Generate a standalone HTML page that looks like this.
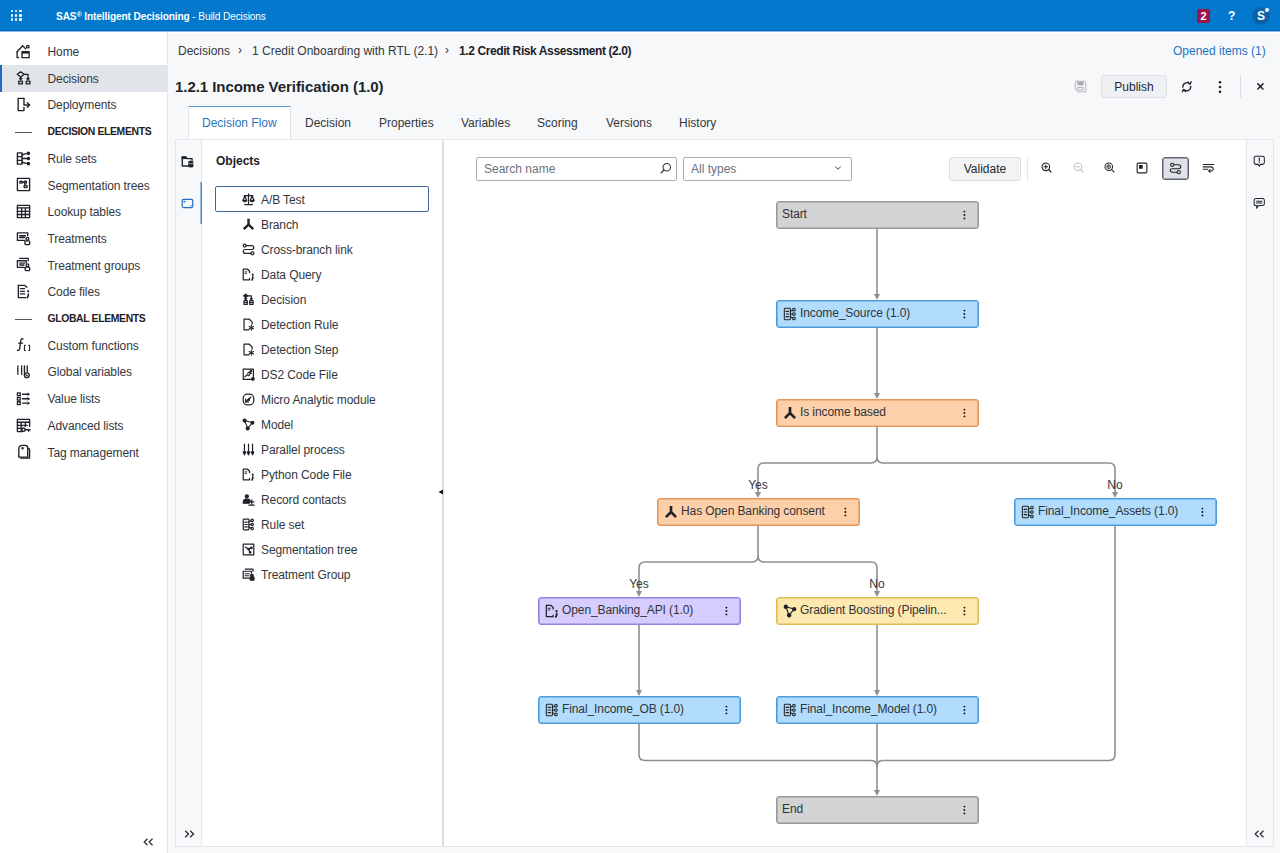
<!DOCTYPE html><html><head><meta charset="utf-8"><style>
*{box-sizing:border-box;margin:0;padding:0}
html,body{width:1280px;height:853px;overflow:hidden;background:#fff;font-family:"Liberation Sans",sans-serif;color:#23272e}
.a{position:absolute}
svg{position:absolute;overflow:visible}
#hdr{position:absolute;left:0;top:0;width:1280px;height:31px;background:#0378cd;border-bottom:1px solid #0068c4}
#side{position:absolute;left:0;top:31px;width:168px;height:822px;background:#fff;border-right:1px solid #e4e6ea}
#main{position:absolute;left:168px;top:33px;width:1112px;height:820px;background:#f7f8fa}
.si{position:absolute;left:0;width:167px;height:27px;font-size:12px;line-height:27px;padding-left:47.5px;padding-top:0.7px;color:#33373d;white-space:nowrap;letter-spacing:-0.1px}
.si.sel{background:#e1e4e8}
.si.sel:before{content:"";position:absolute;left:0;top:0;width:2px;height:27px;background:#1f6ac2}
.sh{position:absolute;left:47.5px;font-size:10.4px;font-weight:bold;color:#1d2126;white-space:nowrap;letter-spacing:-0.35px}
.dash{position:absolute;left:15px;width:17px;height:1px;background:#555}
.t{position:absolute;white-space:nowrap;font-size:12px;line-height:14px;color:#33373d}
.node{position:absolute;width:203px;height:28px;border:1px solid;border-radius:3px;font-size:12px;line-height:24.5px;white-space:nowrap;color:#30343a;letter-spacing:-0.1px}
.kb{position:absolute;left:186px;top:9px;width:2px;height:9px}
.kb i{position:absolute;left:0.2px;width:1.7px;height:1.7px;border-radius:1px;background:#111}
.oi{position:absolute;left:261px;font-size:12px;line-height:14px;white-space:nowrap;color:#33373d;letter-spacing:-0.1px}
</style></head><body>
<div id="hdr"></div><div class="a" style="left:0;top:31px;width:1280px;height:1px;background:#8cbde8;z-index:5"></div>
<div class="a" style="left:10.8px;top:10.0px;width:2.4px;height:2.4px;border-radius:1px;background:#fff"></div>
<div class="a" style="left:15.0px;top:10.0px;width:2.4px;height:2.4px;border-radius:1px;background:#fff"></div>
<div class="a" style="left:19.2px;top:10.0px;width:2.4px;height:2.4px;border-radius:1px;background:#fff"></div>
<div class="a" style="left:10.8px;top:14.2px;width:2.4px;height:2.4px;border-radius:1px;background:#fff"></div>
<div class="a" style="left:15.0px;top:14.2px;width:2.4px;height:2.4px;border-radius:1px;background:#fff"></div>
<div class="a" style="left:19.2px;top:14.2px;width:2.4px;height:2.4px;border-radius:1px;background:#fff"></div>
<div class="a" style="left:10.8px;top:18.4px;width:2.4px;height:2.4px;border-radius:1px;background:#fff"></div>
<div class="a" style="left:15.0px;top:18.4px;width:2.4px;height:2.4px;border-radius:1px;background:#fff"></div>
<div class="a" style="left:19.2px;top:18.4px;width:2.4px;height:2.4px;border-radius:1px;background:#fff"></div>
<div class="t" style="left:56px;top:9.5px;font-size:10.1px;line-height:14px;color:#fff;letter-spacing:-0.1px"><b>SAS<span style="font-size:7px;vertical-align:3px;line-height:0">®</span> Intelligent Decisioning</b> - Build Decisions</div>
<div class="a" style="left:1197px;top:9px;width:13px;height:14px;background:#9a1649;border-radius:1.5px;color:#fff;font-size:11px;font-weight:bold;line-height:14px;text-align:center">2</div>
<div class="t" style="left:1228px;top:8px;font-size:12px;color:#fff;font-weight:bold;line-height:16px">?</div>
<div class="a" style="left:1252px;top:7px;width:18px;height:18px;border-radius:9px;background:#0a62ab;color:#fff;font-size:12px;font-weight:bold;line-height:18px;text-align:center">S</div>
<div class="a" style="left:1265px;top:8px;width:4px;height:4px;border-radius:2px;background:#fff"></div>
<div id="side"></div>
<div class="si" style="top:38.4px">Home</div>
<svg style="left:16.3px;top:43.7px" width="15" height="15" viewBox="0 0 16 16" fill="none" stroke="#1f2329" stroke-width="1.45" stroke-linecap="round" stroke-linejoin="round"><path d="M1.2,8.2 L7.2,1.8 L10.3,5.2"/><circle cx="12.6" cy="2.8" r="1.4"/><path d="M1.2,8.2 V14.6 H2.6"/><rect x="6.4" y="8.2" width="7.6" height="6.4"/><rect x="6.4" y="8.2" width="7.6" height="2" fill="#1f2329" stroke="none"/></svg>
<div class="si sel" style="top:65.1px">Decisions</div>
<svg style="left:16.3px;top:70.4px" width="15" height="15" viewBox="0 0 16 16" fill="none" stroke="#1f2329" stroke-width="1.45" stroke-linecap="round" stroke-linejoin="round"><path d="M1.3,4.6 L5,1.8 L8.7,4.6 L5,7.4 Z"/><path d="M5,7.4 V10.2"/><path d="M3.9,9.1 L5,10.2 L6.1,9.1"/><path d="M8.7,4.6 H12.8 V10.2"/><path d="M11.7,9.1 L12.8,10.2 L13.9,9.1"/><rect x="3" y="11.8" width="3.8" height="3"/><rect x="11" y="11.8" width="3.8" height="3"/></svg>
<div class="si" style="top:91.8px">Deployments</div>
<svg style="left:16.3px;top:97.1px" width="15" height="15" viewBox="0 0 16 16" fill="none" stroke="#1f2329" stroke-width="1.45" stroke-linecap="round" stroke-linejoin="round"><path d="M8.5,1.5 H2.3 V14.5 H8.5 V11"/><path d="M8.5,1.5 V8.5 H14.5"/><path d="M12,6 L14.5,8.5 L12,11"/></svg>
<div class="dash" style="top:131.7px"></div>
<div class="sh" style="top:125.2px;line-height:13px">DECISION ELEMENTS</div>
<div class="si" style="top:145.2px">Rule sets</div>
<svg style="left:16.3px;top:150.5px" width="15" height="15" viewBox="0 0 16 16" fill="none" stroke="#1f2329" stroke-width="1.45" stroke-linecap="round" stroke-linejoin="round"><rect x="1.5" y="2" width="5" height="12"/><path d="M1.5,6 H6.5 M1.5,10 H6.5"/><path d="M6.5,4 L11,2.8 M6.5,8 H11 M6.5,12 L11,13.2"/><circle cx="13.2" cy="2.5" r="1.2" fill="#1f2329"/><circle cx="13.2" cy="8" r="1.2" fill="#1f2329"/><circle cx="13.2" cy="13.5" r="1.2" fill="#1f2329"/></svg>
<div class="si" style="top:171.9px">Segmentation trees</div>
<svg style="left:16.3px;top:177.2px" width="15" height="15" viewBox="0 0 16 16" fill="none" stroke="#1f2329" stroke-width="1.45" stroke-linecap="round" stroke-linejoin="round"><rect x="1.5" y="1.5" width="13" height="13"/><rect x="4" y="4.5" width="2.8" height="2" rx="1"/><rect x="8.5" y="4.5" width="2.8" height="2" rx="1"/><rect x="8.5" y="9" width="3.5" height="2.2" rx="1"/><path d="M6.8,5.5 H8.5 M9.5,6.5 V9"/></svg>
<div class="si" style="top:198.6px">Lookup tables</div>
<svg style="left:16.3px;top:203.9px" width="15" height="15" viewBox="0 0 16 16" fill="none" stroke="#1f2329" stroke-width="1.45" stroke-linecap="round" stroke-linejoin="round"><rect x="1.5" y="1.5" width="13" height="13"/><path d="M1.5,4.2 H14.5 M1.5,7.8 H14.5 M1.5,11.2 H14.5 M6,4.2 V14.5 M10,4.2 V14.5"/></svg>
<div class="si" style="top:225.3px">Treatments</div>
<svg style="left:16.3px;top:230.6px" width="15" height="15" viewBox="0 0 16 16" fill="none" stroke="#1f2329" stroke-width="1.45" stroke-linecap="round" stroke-linejoin="round"><path d="M9,10 H1.5 V2 H12.5 V5"/><path d="M4,5 H10 M4,7 H9" stroke-width="1.6"/><circle cx="12.2" cy="8.3" r="1.5"/><rect x="9.6" y="10.5" width="5" height="4" rx="1"/></svg>
<div class="si" style="top:252.0px">Treatment groups</div>
<svg style="left:16.3px;top:257.3px" width="15" height="15" viewBox="0 0 16 16" fill="none" stroke="#1f2329" stroke-width="1.45" stroke-linecap="round" stroke-linejoin="round"><path d="M4,1.5 H13 V4"/><path d="M9,11 H1.5 V4 H11 V6"/><path d="M4,6.5 H9.5 M4,8.5 H8.5" stroke-width="1.4"/><circle cx="12.2" cy="8.8" r="1.4"/><rect x="9.8" y="10.8" width="4.8" height="3.8" rx="1"/></svg>
<div class="si" style="top:278.7px">Code files</div>
<svg style="left:16.3px;top:284.0px" width="15" height="15" viewBox="0 0 16 16" fill="none" stroke="#1f2329" stroke-width="1.45" stroke-linecap="round" stroke-linejoin="round"><path d="M2.5,1.5 H9.5 L11.5,3.5"/><path d="M2.5,1.5 V14.5 H10.5"/><path d="M4.8,5 H9 M4.8,7.8 H9 M4.8,10.6 H9"/><circle cx="13" cy="7.6" r="1.1" fill="#1f2329" stroke="none"/><path d="M13.1,10.6 V12.4 L12.1,14.6" stroke-width="1.7"/></svg>
<div class="dash" style="top:318.6px"></div>
<div class="sh" style="top:312.1px;line-height:13px">GLOBAL ELEMENTS</div>
<div class="si" style="top:332.1px">Custom functions</div>
<svg style="left:16.3px;top:337.4px" width="15" height="15" viewBox="0 0 16 16" fill="none" stroke="#1f2329" stroke-width="1.45" stroke-linecap="round" stroke-linejoin="round"><path d="M7.5,2 C6,1.6 5.2,2.6 5,4.5 L4,12 C3.8,13.8 3,14.6 1.6,14.2"/><path d="M2.8,6.5 H7"/><path d="M10,8.8 H9 V14.5 H10 M13.5,8.8 H14.5 V14.5 H13.5" stroke-width="1.1"/></svg>
<div class="si" style="top:358.8px">Global variables</div>
<svg style="left:16.3px;top:364.1px" width="15" height="15" viewBox="0 0 16 16" fill="none" stroke="#1f2329" stroke-width="1.45" stroke-linecap="round" stroke-linejoin="round"><path d="M2,2 V12 M6,2 V12" stroke-dasharray="1.5,1" /><path d="M9,2 V10 M12,2 V8"/><circle cx="11.5" cy="12" r="2.6"/><path d="M10.5,11.5 L12,12.5" /></svg>
<div class="si" style="top:385.5px">Value lists</div>
<svg style="left:16.3px;top:390.8px" width="15" height="15" viewBox="0 0 16 16" fill="none" stroke="#1f2329" stroke-width="1.45" stroke-linecap="round" stroke-linejoin="round"><rect x="1.5" y="2" width="3" height="3"/><rect x="1.5" y="6.8" width="3" height="3"/><rect x="1.5" y="11.5" width="3" height="3"/><path d="M7,3.5 H14 M7,8.3 H14 M7,13 H14"/><path d="M12.5,2.3 L14,3.5 L12.5,4.7 M12.5,7.1 L14,8.3 L12.5,9.5 M12.5,11.8 L14,13 L12.5,14.2" stroke-width="1"/></svg>
<div class="si" style="top:412.2px">Advanced lists</div>
<svg style="left:16.3px;top:417.5px" width="15" height="15" viewBox="0 0 16 16" fill="none" stroke="#1f2329" stroke-width="1.45" stroke-linecap="round" stroke-linejoin="round"><path d="M7,14.5 H1.5 V1.5 H14.5 V9"/><path d="M1.5,4.5 H14.5 M1.5,7.8 H12 M1.5,11 H5 M5.5,4.5 V14.5 M10,4.5 V9"/><circle cx="8" cy="12.5" r="1.8"/><path d="M9.8,12.5 H15 M13.5,12.5 V14"/></svg>
<div class="si" style="top:438.9px">Tag management</div>
<svg style="left:16.3px;top:444.2px" width="15" height="15" viewBox="0 0 16 16" fill="none" stroke="#1f2329" stroke-width="1.45" stroke-linecap="round" stroke-linejoin="round"><path d="M3,14 V5 C3,2.5 4.5,1.5 7,1.5 H10 C11.8,1.5 12.5,2.5 12.5,4 V14 Z"/><path d="M12.5,4.5 C14,4.5 14.5,5.5 14.5,6.5 V15 H5"/><circle cx="7" cy="4.5" r="0.6" fill="#1f2329"/></svg>
<svg style="left:143px;top:838px" width="11" height="8"><path d="M4.5,0.8 L1.2,4 L4.5,7.2 M9.5,0.8 L6.2,4 L9.5,7.2" fill="none" stroke="#2b2f36" stroke-width="1.3"/></svg>
<div id="main"></div>
<div class="t" style="left:178px;top:44px">Decisions</div>
<div class="t" style="left:238px;top:43px">›</div>
<div class="t" style="left:252px;top:44px">1 Credit Onboarding with RTL (2.1)</div>
<div class="t" style="left:445px;top:43px">›</div>
<div class="t" style="left:459px;top:44px;font-weight:bold;color:#1d2126;letter-spacing:-0.4px">1.2 Credit Risk Assessment (2.0)</div>
<div class="t" style="left:1173px;top:44px;color:#1f75c0">Opened items (1)</div>
<div class="t" style="left:175px;top:77.8px;font-size:15px;line-height:18px;font-weight:bold;color:#22262c;letter-spacing:-0.05px">1.2.1 Income Verification (1.0)</div>
<svg style="left:1074px;top:80px" width="13" height="13" viewBox="0 0 16 16" fill="none" stroke="#a6a9ae" stroke-width="1.1" stroke-linecap="round" stroke-linejoin="round"><path d="M3.5,1.5 H12.5 Q14.5,1.5 14.5,3.5 V14.5 H4.5 L1.5,11.5 V3.5 Q1.5,1.5 3.5,1.5 Z"/><rect x="4.2" y="2.2" width="7.6" height="4.3" fill="#a6a9ae" stroke="none"/><rect x="4.8" y="9" width="6.4" height="3"/></svg>
<div class="a" style="left:1101px;top:75px;width:66px;height:23px;background:#eef0f3;border:1px solid #dcdfe4;border-radius:3px;font-size:12px;line-height:22.5px;text-align:center;color:#23272e">Publish</div>
<svg style="left:1181.2px;top:81.2px" width="11.5" height="11.5" viewBox="0 0 16 16" fill="none" stroke="#1f2329" stroke-width="1.3" stroke-linecap="round" stroke-linejoin="round"><path d="M12.3,4.2 A5.6,5.6 0 0 0 2.6,8.6" stroke-width="1.9"/><path d="M3.7,11.8 A5.6,5.6 0 0 0 13.4,7.4" stroke-width="1.9"/><path d="M9.6,1.2 L12.6,4.4 L14.2,0.9" stroke-width="1.7"/><path d="M6.4,14.8 L3.4,11.6 L1.8,15.1" stroke-width="1.7"/></svg>
<svg style="left:1213px;top:80px" width="14" height="14" viewBox="0 0 16 16" fill="none" stroke="#1f2329" stroke-width="1.3" stroke-linecap="round" stroke-linejoin="round"><circle cx="8" cy="2.5" r="1.5" fill="#1f2329" stroke="none"/><circle cx="8" cy="8" r="1.5" fill="#1f2329" stroke="none"/><circle cx="8" cy="13.5" r="1.5" fill="#1f2329" stroke="none"/></svg>
<div class="a" style="left:1240px;top:75px;width:1px;height:23px;background:#dcdfe4"></div>
<svg style="left:1256px;top:82.2px" width="8.8" height="8.8" viewBox="0 0 16 16" fill="none" stroke="#1f2329" stroke-width="1.3" stroke-linecap="round" stroke-linejoin="round"><path d="M2.5,2.5 L13.5,13.5 M13.5,2.5 L2.5,13.5" stroke-width="2.6" stroke-linecap="butt"/></svg>
<div class="a" style="left:188px;top:106px;width:103px;height:34px;background:#fff;border:1px solid #e0e3e7;border-top:1px solid #5b9bd5;border-bottom:none"></div>
<div class="t" style="left:202px;top:116px;color:#1f75c0">Decision Flow</div>
<div class="t" style="left:305px;top:116px;color:#33373d">Decision</div>
<div class="t" style="left:379px;top:116px;color:#33373d">Properties</div>
<div class="t" style="left:461px;top:116px;color:#33373d">Variables</div>
<div class="t" style="left:537px;top:116px;color:#33373d">Scoring</div>
<div class="t" style="left:606px;top:116px;color:#33373d">Versions</div>
<div class="t" style="left:679px;top:116px;color:#33373d">History</div>
<div class="a" style="left:175px;top:139px;width:1099px;height:708px;background:#fff;border:1px solid #e3e6ea"></div>
<div class="a" style="left:176px;top:140px;width:26px;height:706px;background:#f7f8fa;border-right:1px solid #e3e6ea"></div>
<div class="a" style="left:201px;top:182px;width:1px;height:42px;background:#3b86cf;box-shadow:-0.5px 0 0 0 #3b86cf"></div>
<svg style="left:181px;top:155px" width="13" height="13" viewBox="0 0 16 16" fill="none" stroke="#1f2329" stroke-width="1.3" stroke-linecap="round" stroke-linejoin="round"><path d="M8.5,13.6 H1.6 V2.4 H6 L7.6,4.4 H13.6 V6.4" stroke-width="1.7"/><path d="M1.6,2.4 H6 L7.6,4.4 H1.6 Z" fill="#1f2329" stroke-width="1.2"/><path d="M8.8,8.6 V13.8 Q8.8,15.3 12,15.3 Q15.2,15.3 15.2,13.8 V8.6 Z" fill="#1f2329" stroke="none"/><ellipse cx="12" cy="8.6" rx="3.2" ry="1.5" fill="#1f2329" stroke="none"/><path d="M8.9,10.2 Q12,11.6 15.1,10.2" stroke="#f7f8fa" stroke-width="0.7"/></svg>
<svg style="left:181px;top:197px" width="13" height="13" viewBox="0 0 16 16" fill="none" stroke="#1f6fc0" stroke-width="1.3" stroke-linecap="round" stroke-linejoin="round"><rect x="1.5" y="3" width="13" height="10" rx="1.5" stroke-width="1.5"/><rect x="3.2" y="4.7" width="2" height="2" fill="#1f6fc0" stroke="none"/><circle cx="12.3" cy="10.8" r="0.9" fill="#1f6fc0" stroke="none"/></svg>
<div class="a" style="left:442px;top:140px;width:2px;height:706px;background:#dde1e6"></div>
<svg style="left:438px;top:489px" width="6" height="6"><path d="M0.5,3 L5,0.5 L5,5.5 Z" fill="#111"/></svg>
<div class="a" style="left:1246px;top:140px;width:27px;height:706px;background:#f7f8fa;border-left:1px solid #e3e6ea"></div>
<svg style="left:1253px;top:155px" width="12.5" height="12.5" viewBox="0 0 16 16" fill="none" stroke="#1f2329" stroke-width="1.3" stroke-linecap="round" stroke-linejoin="round"><path d="M3.8,1.5 H12.2 Q14.5,1.5 14.5,3.8 V9.7 Q14.5,12 12.2,12 H9.6 L8,14.2 L6.4,12 H3.8 Q1.5,12 1.5,9.7 V3.8 Q1.5,1.5 3.8,1.5 Z"/><path d="M8,4 V7.8" stroke-width="1.5"/><circle cx="8" cy="9.8" r="0.7" fill="#1f2329" stroke="none"/></svg>
<svg style="left:1253px;top:197px" width="12.5" height="12.5" viewBox="0 0 16 16" fill="none" stroke="#1f2329" stroke-width="1.3" stroke-linecap="round" stroke-linejoin="round"><path d="M3.8,2 H12.2 Q14.5,2 14.5,4.3 V8.7 Q14.5,11 12.2,11 H7 L4.5,14.5 L5,11 H3.8 Q1.5,11 1.5,8.7 V4.3 Q1.5,2 3.8,2 Z"/><path d="M4.5,5.3 H11.5 M4.5,7.8 H11.5"/></svg>
<div class="t" style="left:216px;top:154px;font-weight:bold;color:#1d2126">Objects</div>
<div class="a" style="left:215px;top:186px;width:214px;height:26px;border:1px solid #41699a;border-radius:2px"></div>
<div class="oi" style="top:192.7px">A/B Test</div>
<svg style="left:241.5px;top:192.5px" width="13" height="13" viewBox="0 0 16 16" fill="none" stroke="#1f2329" stroke-width="1.5" stroke-linecap="round" stroke-linejoin="round"><path d="M8,1.2 V13.8 M3.2,14.3 H12.8 M2.8,3.2 H13.2"/><path d="M3.5,3.5 L1.3,9 M3.5,3.5 L5.7,9 M12.5,3.5 L10.3,9 M12.5,3.5 L14.7,9"/><path d="M1.1,9 C1.3,11.6 5.7,11.6 5.9,9 Z M10.1,9 C10.3,11.6 14.7,11.6 14.9,9 Z"/></svg>
<div class="oi" style="top:217.7px">Branch</div>
<svg style="left:241.5px;top:217.5px" width="13" height="13" viewBox="0 0 16 16" fill="none" stroke="#1f2329" stroke-width="1.5" stroke-linecap="round" stroke-linejoin="round"><path d="M8,1 V8 L2.2,13.8 M8,8 L13.8,13.8" stroke-width="3" stroke-linecap="butt" stroke-linejoin="miter"/></svg>
<div class="oi" style="top:242.7px">Cross-branch link</div>
<svg style="left:241.5px;top:242.5px" width="13" height="13" viewBox="0 0 16 16" fill="none" stroke="#1f2329" stroke-width="1.5" stroke-linecap="round" stroke-linejoin="round"><circle cx="3.2" cy="3.2" r="1.8"/><circle cx="12.8" cy="12.8" r="1.8"/><path d="M5,3.2 H11.5 C13.5,3.2 14.5,4.2 14.5,5.7 C14.5,7.2 13.5,8 11.5,8 H4.5 C2.5,8 1.5,9 1.5,10.4 C1.5,11.8 2.5,12.8 4.5,12.8 H11"/></svg>
<div class="oi" style="top:267.7px">Data Query</div>
<svg style="left:241.5px;top:267.5px" width="13" height="13" viewBox="0 0 16 16" fill="none" stroke="#1f2329" stroke-width="1.5" stroke-linecap="round" stroke-linejoin="round"><path d="M9.3,5.8 V4 L7,1.5 H1.5 V14.5 H9.3 V12.8"/><path d="M3.8,4.8 H6 M3.8,6.8 H5.3" stroke-width="1.2"/><circle cx="13.2" cy="8.2" r="1.3" fill="#1f2329" stroke="none"/><path d="M13.3,10.8 V12.6 L12.3,14.8" stroke-width="2"/></svg>
<div class="oi" style="top:292.7px">Decision</div>
<svg style="left:241.5px;top:292.5px" width="13" height="13" viewBox="0 0 16 16" fill="none" stroke="#1f2329" stroke-width="1.5" stroke-linecap="round" stroke-linejoin="round"><path d="M2,3.5 L4.5,1.5 L7,3.5 L4.5,5.5 Z" fill="#1f2329"/><path d="M7,3.5 H11.5 V8 M4.5,5.5 V8"/><path d="M3.3,7 L4.5,8.3 L5.7,7 M10.3,7 L11.5,8.3 L12.7,7"/><rect x="2.5" y="9.5" width="4" height="4.5"/><rect x="9.5" y="9.5" width="4" height="4.5"/><path d="M2.5,11.7 H6.5 M9.5,11.7 H13.5"/></svg>
<div class="oi" style="top:317.7px">Detection Rule</div>
<svg style="left:241.5px;top:317.5px" width="13" height="13" viewBox="0 0 16 16" fill="none" stroke="#1f2329" stroke-width="1.5" stroke-linecap="round" stroke-linejoin="round"><path d="M8.5,14.5 H2.5 V1.5 H9 L12.5,5 V7.5"/><path d="M11.5,9 V15 M8.8,10.5 L14.2,13.5 M8.8,13.5 L14.2,10.5" stroke-width="1.3"/></svg>
<div class="oi" style="top:342.7px">Detection Step</div>
<svg style="left:241.5px;top:342.5px" width="13" height="13" viewBox="0 0 16 16" fill="none" stroke="#1f2329" stroke-width="1.5" stroke-linecap="round" stroke-linejoin="round"><path d="M8.5,14.5 H2.5 V1.5 H9 L12.5,5 V7.5"/><path d="M11.5,9 V15 M8.8,10.5 L14.2,13.5 M8.8,13.5 L14.2,10.5" stroke-width="1.3"/></svg>
<div class="oi" style="top:367.7px">DS2 Code File</div>
<svg style="left:241.5px;top:367.5px" width="13" height="13" viewBox="0 0 16 16" fill="none" stroke="#1f2329" stroke-width="1.5" stroke-linecap="round" stroke-linejoin="round"><rect x="1.5" y="1.5" width="12.5" height="12.5"/><path d="M3.5,11 L6,8.5 L8.5,9.5 L10.5,6 M7,6.5 L9,5 L11.5,6.5"/><circle cx="11" cy="3.8" r="0.8" fill="#1f2329"/><circle cx="13.5" cy="13.5" r="2.3" fill="#1f2329" stroke="none"/></svg>
<div class="oi" style="top:392.7px">Micro Analytic module</div>
<svg style="left:241.5px;top:392.5px" width="13" height="13" viewBox="0 0 16 16" fill="none" stroke="#1f2329" stroke-width="1.5" stroke-linecap="round" stroke-linejoin="round"><rect x="1.5" y="1.5" width="13" height="13" rx="5"/><path d="M4.5,11 L11,5 M6.5,8.5 L9,6.5 L9,9 Z" fill="#1f2329"/><path d="M4.5,7.5 V11 H8"/></svg>
<div class="oi" style="top:417.7px">Model</div>
<svg style="left:241.5px;top:417.5px" width="13" height="13" viewBox="0 0 16 16" fill="none" stroke="#1f2329" stroke-width="1.5" stroke-linecap="round" stroke-linejoin="round"><path d="M3.2,3.2 L12.8,5.8 L7,12.8 Z" stroke-width="1.3"/><circle cx="3.2" cy="3.2" r="2.5" fill="#1f2329" stroke="none"/><circle cx="12.8" cy="5.8" r="2.5" fill="#1f2329" stroke="none"/><circle cx="7" cy="12.8" r="2.5" fill="#1f2329" stroke="none"/></svg>
<div class="oi" style="top:442.7px">Parallel process</div>
<svg style="left:241.5px;top:442.5px" width="13" height="13" viewBox="0 0 16 16" fill="none" stroke="#1f2329" stroke-width="1.5" stroke-linecap="round" stroke-linejoin="round"><path d="M3,1.5 V13 M8,1.5 V13 M13,1.5 V13" stroke-width="1.5"/><path d="M1.5,11 L3,14.5 L4.5,11 Z M6.5,11 L8,14.5 L9.5,11 Z M11.5,11 L13,14.5 L14.5,11 Z" fill="#1f2329"/></svg>
<div class="oi" style="top:467.7px">Python Code File</div>
<svg style="left:241.5px;top:467.5px" width="13" height="13" viewBox="0 0 16 16" fill="none" stroke="#1f2329" stroke-width="1.5" stroke-linecap="round" stroke-linejoin="round"><path d="M9.3,5.8 V4 L7,1.5 H1.5 V14.5 H9.3 V12.8"/><path d="M3.8,4.8 H6 M3.8,6.8 H5.3" stroke-width="1.2"/><circle cx="13.2" cy="8.2" r="1.3" fill="#1f2329" stroke="none"/><path d="M13.3,10.8 V12.6 L12.3,14.8" stroke-width="2"/></svg>
<div class="oi" style="top:492.7px">Record contacts</div>
<svg style="left:241.5px;top:492.5px" width="13" height="13" viewBox="0 0 16 16" fill="none" stroke="#1f2329" stroke-width="1.5" stroke-linecap="round" stroke-linejoin="round"><circle cx="6" cy="4" r="2.6" fill="#1f2329" stroke="none"/><path d="M1.5,12.5 C1.5,8.5 3.5,7.3 6,7.3 C8,7.3 9.3,8 10,9 L9,12.5 Z" fill="#1f2329"/><path d="M12,8.5 V13.5 M9.5,11 H14.5 M8.5,15 H15"/></svg>
<div class="oi" style="top:517.7px">Rule set</div>
<svg style="left:241.5px;top:517.5px" width="13" height="13" viewBox="0 0 16 16" fill="none" stroke="#1f2329" stroke-width="1.5" stroke-linecap="round" stroke-linejoin="round"><rect x="1.5" y="1.5" width="7" height="13" rx="1"/><path d="M3.5,5 H6.5 M3.5,8 H6.5 M3.5,11 H6.5"/><path d="M8.5,8 H11"/><circle cx="12.5" cy="3" r="1.5"/><circle cx="12.5" cy="8" r="1.5"/><circle cx="12.5" cy="13" r="1.5"/><path d="M8.5,5 L11,3.5 M8.5,11 L11,12.5"/></svg>
<div class="oi" style="top:542.7px">Segmentation tree</div>
<svg style="left:241.5px;top:542.5px" width="13" height="13" viewBox="0 0 16 16" fill="none" stroke="#1f2329" stroke-width="1.5" stroke-linecap="round" stroke-linejoin="round"><rect x="1.5" y="1.5" width="13" height="13"/><path d="M4,5 L8,7.5 L11.5,6 M8,7.5 L10,12"/><circle cx="8" cy="7.5" r="1" fill="#1f2329"/><circle cx="11.5" cy="6" r="1" fill="#1f2329"/><circle cx="10" cy="11.5" r="1" fill="#1f2329"/></svg>
<div class="oi" style="top:567.7px">Treatment Group</div>
<svg style="left:241.5px;top:567.5px" width="13" height="13" viewBox="0 0 16 16" fill="none" stroke="#1f2329" stroke-width="1.5" stroke-linecap="round" stroke-linejoin="round"><path d="M4,1.5 H13.5 V4"/><path d="M9,12.5 H1.5 V4 H11.5 V6"/><path d="M3.8,7 H9 M3.8,9.5 H8.5" stroke-width="1.3"/><circle cx="12.2" cy="9" r="1.5" fill="#1f2329"/><rect x="10" y="11" width="4.8" height="4" rx="1" fill="#1f2329"/></svg>
<svg style="left:184px;top:830px" width="11" height="8"><path d="M1.2,0.8 L4.5,4 L1.2,7.2 M6.2,0.8 L9.5,4 L6.2,7.2" fill="none" stroke="#2b2f36" stroke-width="1.3"/></svg>
<svg style="left:1254px;top:830px" width="11" height="8"><path d="M4.5,0.8 L1.2,4 L4.5,7.2 M9.5,0.8 L6.2,4 L9.5,7.2" fill="none" stroke="#2b2f36" stroke-width="1.3"/></svg>
<div class="a" style="left:476px;top:157px;width:201px;height:24px;border:1px solid #a9b0b9;border-radius:2px;background:#fff"></div>
<div class="t" style="left:484px;top:162px;color:#6b7380">Search name</div>
<svg style="left:660px;top:162px" width="12" height="12" viewBox="0 0 16 16" fill="none" stroke="#2b2f36" stroke-width="1.4" stroke-linecap="round" stroke-linejoin="round"><circle cx="9" cy="7" r="5"/><path d="M5.3,10.7 L1.5,14.5" stroke-width="1.6"/></svg>
<div class="a" style="left:683px;top:157px;width:169px;height:24px;border:1px solid #a9b0b9;border-radius:2px;background:#fff"></div>
<div class="t" style="left:691px;top:162px;color:#6b7380">All types</div>
<svg style="left:833px;top:163px" width="10" height="10" viewBox="0 0 16 16" fill="none" stroke="#2b2f36" stroke-width="1.5" stroke-linecap="round" stroke-linejoin="round"><path d="M4,6 L8,10 L12,6" stroke-width="1.5"/></svg>
<div class="a" style="left:949px;top:157px;width:72px;height:24px;background:#f2f3f5;border:1px solid #dcdfe4;border-radius:3px;font-size:12px;line-height:22px;text-align:center;color:#23272e">Validate</div>
<div class="a" style="left:1027px;top:157px;width:1px;height:24px;background:#e3e6ea"></div>
<svg style="left:1041px;top:162px" width="11" height="11" viewBox="0 0 16 16" fill="none" stroke="#1f2329" stroke-width="1.3" stroke-linecap="round" stroke-linejoin="round"><circle cx="7" cy="7" r="5.5" stroke-width="1.6"/><path d="M4.5,7 H9.5 M7,4.5 V9.5" stroke-width="1.6"/><path d="M11,11 L14.5,14.5" stroke-width="1.8"/></svg>
<svg style="left:1073px;top:162px" width="11" height="11" viewBox="0 0 16 16" fill="none" stroke="#b9bcc1" stroke-width="1.3" stroke-linecap="round" stroke-linejoin="round"><circle cx="7" cy="7" r="5.5" stroke-width="1.5"/><path d="M4.5,7 H9.5" stroke-width="1.5"/><path d="M11,11 L14.5,14.5" stroke-width="1.6"/></svg>
<svg style="left:1104px;top:162px" width="11" height="11" viewBox="0 0 16 16" fill="none" stroke="#1f2329" stroke-width="1.3" stroke-linecap="round" stroke-linejoin="round"><circle cx="7" cy="7" r="5.5" stroke-width="1.5"/><path d="M7,4 V10 M4,7 H10" stroke-width="0.9"/><rect x="4.6" y="4.6" width="4.8" height="4.8" rx="0.8" stroke-width="0.9"/><path d="M11,11 L14.5,14.5" stroke-width="1.6"/></svg>
<svg style="left:1136px;top:162px" width="12" height="12" viewBox="0 0 16 16" fill="none" stroke="#1f2329" stroke-width="1.3" stroke-linecap="round" stroke-linejoin="round"><rect x="1.5" y="1.5" width="13" height="13" rx="1.5" stroke-width="1.5"/><rect x="4" y="4" width="5" height="5" fill="#1f2329" stroke="none"/></svg>
<div class="a" style="left:1162px;top:157px;width:27px;height:23px;background:#dfe2e7;border:1px solid #5f656d;box-shadow:inset 0 0 0 0.5px #5f656d;border-radius:3px"></div>
<svg style="left:1169px;top:162px" width="13" height="13" viewBox="0 0 16 16" fill="none" stroke="#1f2329" stroke-width="1.3" stroke-linecap="round" stroke-linejoin="round"><circle cx="4" cy="3.5" r="2"/><circle cx="12" cy="12.5" r="2"/><path d="M6,3.5 H11.5 C13.5,3.5 14.5,4.8 14.5,6.2 C14.5,7.6 13.5,8.2 11.5,8.2 H4.5 C2.5,8.2 1.5,9.2 1.5,10.5 C1.5,11.8 2.5,12.5 4.5,12.5 H10"/></svg>
<svg style="left:1202px;top:162px" width="13" height="13" viewBox="0 0 16 16" fill="none" stroke="#1f2329" stroke-width="1.3" stroke-linecap="round" stroke-linejoin="round"><path d="M1.5,3 H14.5 M1.5,6 H11 C14.5,6 14.8,11 11,11 H8.5 M1.5,9 H7"/><path d="M10,9.3 L8.3,11 L10,12.7"/></svg>
<svg style="left:0;top:0" width="1280" height="853"><path d="M877,228 V294" fill="none" stroke="#8f8f8f" stroke-width="1.6"/><path d="M874,294 L880,294 L877,300 Z" fill="#8f8f8f"/><path d="M877,327 V393" fill="none" stroke="#8f8f8f" stroke-width="1.6"/><path d="M874,393 L880,393 L877,399 Z" fill="#8f8f8f"/><path d="M877,426 V457 Q877,463 871,463 H764 Q758,463 758,469 V492" fill="none" stroke="#8f8f8f" stroke-width="1.6"/><path d="M755,492 L761,492 L758,498 Z" fill="#8f8f8f"/><path d="M877,457 Q877,463 883,463 H1109 Q1115,463 1115,469 V492" fill="none" stroke="#8f8f8f" stroke-width="1.6"/><path d="M1112,492 L1118,492 L1115,498 Z" fill="#8f8f8f"/><path d="M758,525 V556 Q758,562 752,562 H645 Q639,562 639,568 V591" fill="none" stroke="#8f8f8f" stroke-width="1.6"/><path d="M636,591 L642,591 L639,597 Z" fill="#8f8f8f"/><path d="M758,556 Q758,562 764,562 H871 Q877,562 877,568 V591" fill="none" stroke="#8f8f8f" stroke-width="1.6"/><path d="M874,591 L880,591 L877,597 Z" fill="#8f8f8f"/><path d="M639,624 V690" fill="none" stroke="#8f8f8f" stroke-width="1.6"/><path d="M636,690 L642,690 L639,696 Z" fill="#8f8f8f"/><path d="M877,624 V690" fill="none" stroke="#8f8f8f" stroke-width="1.6"/><path d="M874,690 L880,690 L877,696 Z" fill="#8f8f8f"/><path d="M639,723 V754.5 Q639,760.5 645,760.5 H871 Q877,760.5 877,766.5 V790" fill="none" stroke="#8f8f8f" stroke-width="1.6"/><path d="M874,790 L880,790 L877,796 Z" fill="#8f8f8f"/><path d="M1115,525 V754.5 Q1115,760.5 1109,760.5 H883 Q877,760.5 877,766.5" fill="none" stroke="#8f8f8f" stroke-width="1.6"/><path d="M877,723 V767" fill="none" stroke="#8f8f8f" stroke-width="1.6"/></svg>
<div class="t" style="left:738px;top:478px;width:40px;text-align:center">Yes</div>
<div class="t" style="left:1095px;top:478px;width:40px;text-align:center">No</div>
<div class="t" style="left:619px;top:577px;width:40px;text-align:center">Yes</div>
<div class="t" style="left:857px;top:577px;width:40px;text-align:center">No</div>
<div class="node" style="left:776px;top:201px;background:#d3d3d3;border-color:#9a9a9a;box-shadow:inset 0 0 0 0.6px #9a9a9a;padding-left:5px">Start</div>
<svg style="left:962px;top:210px" width="4" height="10"><circle cx="2.4" cy="1.6" r="0.95" fill="#111"/><circle cx="2.4" cy="5" r="0.95" fill="#111"/><circle cx="2.4" cy="8.4" r="0.95" fill="#111"/></svg>
<div class="node" style="left:776px;top:300px;background:#b1dcfc;border-color:#4d9be0;box-shadow:inset 0 0 0 0.6px #4d9be0;padding-left:23px">Income_Source (1.0)</div>
<svg style="left:962px;top:309px" width="4" height="10"><circle cx="2.4" cy="1.6" r="0.95" fill="#111"/><circle cx="2.4" cy="5" r="0.95" fill="#111"/><circle cx="2.4" cy="8.4" r="0.95" fill="#111"/></svg>
<svg style="left:782.5px;top:306.5px" width="14" height="14" viewBox="0 0 16 16" fill="none" stroke="#1f2329" stroke-width="1.2" stroke-linecap="round" stroke-linejoin="round"><rect x="1.5" y="1.5" width="7" height="13" rx="1"/><path d="M3.5,5 H6.5 M3.5,8 H6.5 M3.5,11 H6.5"/><path d="M8.5,8 H11"/><circle cx="12.5" cy="3" r="1.5"/><circle cx="12.5" cy="8" r="1.5"/><circle cx="12.5" cy="13" r="1.5"/><path d="M8.5,5 L11,3.5 M8.5,11 L11,12.5"/></svg>
<div class="node" style="left:776px;top:399px;background:#fdd0a9;border-color:#e49558;box-shadow:inset 0 0 0 0.6px #e49558;padding-left:23px">Is income based</div>
<svg style="left:962px;top:408px" width="4" height="10"><circle cx="2.4" cy="1.6" r="0.95" fill="#111"/><circle cx="2.4" cy="5" r="0.95" fill="#111"/><circle cx="2.4" cy="8.4" r="0.95" fill="#111"/></svg>
<svg style="left:782.5px;top:405.5px" width="14" height="14" viewBox="0 0 16 16" fill="none" stroke="#1f2329" stroke-width="1.45" stroke-linecap="round" stroke-linejoin="round"><path d="M8,1 V8 L2.2,13.8 M8,8 L13.8,13.8" stroke-width="3" stroke-linecap="butt" stroke-linejoin="miter"/></svg>
<div class="node" style="left:657px;top:498px;background:#fdd0a9;border-color:#e49558;box-shadow:inset 0 0 0 0.6px #e49558;padding-left:23px">Has Open Banking consent</div>
<svg style="left:843px;top:507px" width="4" height="10"><circle cx="2.4" cy="1.6" r="0.95" fill="#111"/><circle cx="2.4" cy="5" r="0.95" fill="#111"/><circle cx="2.4" cy="8.4" r="0.95" fill="#111"/></svg>
<svg style="left:663.5px;top:504.5px" width="14" height="14" viewBox="0 0 16 16" fill="none" stroke="#1f2329" stroke-width="1.45" stroke-linecap="round" stroke-linejoin="round"><path d="M8,1 V8 L2.2,13.8 M8,8 L13.8,13.8" stroke-width="3" stroke-linecap="butt" stroke-linejoin="miter"/></svg>
<div class="node" style="left:1014px;top:498px;background:#b1dcfc;border-color:#4d9be0;box-shadow:inset 0 0 0 0.6px #4d9be0;padding-left:23px">Final_Income_Assets (1.0)</div>
<svg style="left:1200px;top:507px" width="4" height="10"><circle cx="2.4" cy="1.6" r="0.95" fill="#111"/><circle cx="2.4" cy="5" r="0.95" fill="#111"/><circle cx="2.4" cy="8.4" r="0.95" fill="#111"/></svg>
<svg style="left:1020.5px;top:504.5px" width="14" height="14" viewBox="0 0 16 16" fill="none" stroke="#1f2329" stroke-width="1.2" stroke-linecap="round" stroke-linejoin="round"><rect x="1.5" y="1.5" width="7" height="13" rx="1"/><path d="M3.5,5 H6.5 M3.5,8 H6.5 M3.5,11 H6.5"/><path d="M8.5,8 H11"/><circle cx="12.5" cy="3" r="1.5"/><circle cx="12.5" cy="8" r="1.5"/><circle cx="12.5" cy="13" r="1.5"/><path d="M8.5,5 L11,3.5 M8.5,11 L11,12.5"/></svg>
<div class="node" style="left:538px;top:597px;background:#d6ccfd;border-color:#9681e0;box-shadow:inset 0 0 0 0.6px #9681e0;padding-left:23px">Open_Banking_API (1.0)</div>
<svg style="left:724px;top:606px" width="4" height="10"><circle cx="2.4" cy="1.6" r="0.95" fill="#111"/><circle cx="2.4" cy="5" r="0.95" fill="#111"/><circle cx="2.4" cy="8.4" r="0.95" fill="#111"/></svg>
<svg style="left:544.5px;top:603.5px" width="14" height="14" viewBox="0 0 16 16" fill="none" stroke="#1f2329" stroke-width="1.45" stroke-linecap="round" stroke-linejoin="round"><path d="M9.3,5.8 V4 L7,1.5 H1.5 V14.5 H9.3 V12.8"/><path d="M3.8,4.8 H6 M3.8,6.8 H5.3" stroke-width="1.2"/><circle cx="13.2" cy="8.2" r="1.3" fill="#1f2329" stroke="none"/><path d="M13.3,10.8 V12.6 L12.3,14.8" stroke-width="2"/></svg>
<div class="node" style="left:776px;top:597px;background:#fde9b0;border-color:#dfbb55;box-shadow:inset 0 0 0 0.6px #dfbb55;padding-left:23px">Gradient Boosting (Pipelin...</div>
<svg style="left:962px;top:606px" width="4" height="10"><circle cx="2.4" cy="1.6" r="0.95" fill="#111"/><circle cx="2.4" cy="5" r="0.95" fill="#111"/><circle cx="2.4" cy="8.4" r="0.95" fill="#111"/></svg>
<svg style="left:782.5px;top:603.5px" width="14" height="14" viewBox="0 0 16 16" fill="none" stroke="#1f2329" stroke-width="1.45" stroke-linecap="round" stroke-linejoin="round"><path d="M3.2,3.2 L12.8,5.8 L7,12.8 Z" stroke-width="1.3"/><circle cx="3.2" cy="3.2" r="2.5" fill="#1f2329" stroke="none"/><circle cx="12.8" cy="5.8" r="2.5" fill="#1f2329" stroke="none"/><circle cx="7" cy="12.8" r="2.5" fill="#1f2329" stroke="none"/></svg>
<div class="node" style="left:538px;top:696px;background:#b1dcfc;border-color:#4d9be0;box-shadow:inset 0 0 0 0.6px #4d9be0;padding-left:23px">Final_Income_OB (1.0)</div>
<svg style="left:724px;top:705px" width="4" height="10"><circle cx="2.4" cy="1.6" r="0.95" fill="#111"/><circle cx="2.4" cy="5" r="0.95" fill="#111"/><circle cx="2.4" cy="8.4" r="0.95" fill="#111"/></svg>
<svg style="left:544.5px;top:702.5px" width="14" height="14" viewBox="0 0 16 16" fill="none" stroke="#1f2329" stroke-width="1.2" stroke-linecap="round" stroke-linejoin="round"><rect x="1.5" y="1.5" width="7" height="13" rx="1"/><path d="M3.5,5 H6.5 M3.5,8 H6.5 M3.5,11 H6.5"/><path d="M8.5,8 H11"/><circle cx="12.5" cy="3" r="1.5"/><circle cx="12.5" cy="8" r="1.5"/><circle cx="12.5" cy="13" r="1.5"/><path d="M8.5,5 L11,3.5 M8.5,11 L11,12.5"/></svg>
<div class="node" style="left:776px;top:696px;background:#b1dcfc;border-color:#4d9be0;box-shadow:inset 0 0 0 0.6px #4d9be0;padding-left:23px">Final_Income_Model (1.0)</div>
<svg style="left:962px;top:705px" width="4" height="10"><circle cx="2.4" cy="1.6" r="0.95" fill="#111"/><circle cx="2.4" cy="5" r="0.95" fill="#111"/><circle cx="2.4" cy="8.4" r="0.95" fill="#111"/></svg>
<svg style="left:782.5px;top:702.5px" width="14" height="14" viewBox="0 0 16 16" fill="none" stroke="#1f2329" stroke-width="1.2" stroke-linecap="round" stroke-linejoin="round"><rect x="1.5" y="1.5" width="7" height="13" rx="1"/><path d="M3.5,5 H6.5 M3.5,8 H6.5 M3.5,11 H6.5"/><path d="M8.5,8 H11"/><circle cx="12.5" cy="3" r="1.5"/><circle cx="12.5" cy="8" r="1.5"/><circle cx="12.5" cy="13" r="1.5"/><path d="M8.5,5 L11,3.5 M8.5,11 L11,12.5"/></svg>
<div class="node" style="left:776px;top:796px;background:#d3d3d3;border-color:#9a9a9a;box-shadow:inset 0 0 0 0.6px #9a9a9a;padding-left:5px">End</div>
<svg style="left:962px;top:805px" width="4" height="10"><circle cx="2.4" cy="1.6" r="0.95" fill="#111"/><circle cx="2.4" cy="5" r="0.95" fill="#111"/><circle cx="2.4" cy="8.4" r="0.95" fill="#111"/></svg>
</body></html>
